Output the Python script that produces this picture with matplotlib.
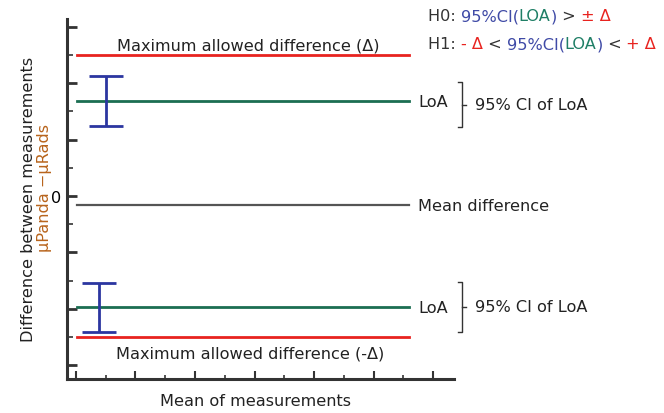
import matplotlib
matplotlib.use("Agg")
import matplotlib.pyplot as plt
from matplotlib.ticker import MultipleLocator, FixedLocator

# values (arbitrary units)
delta = 5.0
loa_upper = 3.37
loa_lower = -3.94
mean_diff = -0.32
ci_upper = [2.48, 4.27]
ci_lower = [-4.82, -3.07]
ci_x = [1.0, 0.77]
line_x = [0.05, 11.2]

RED = "#e8231f"
GREEN = "#1b6e52"
NAVY = "#2b36a0"
GRAY = "#555555"
DARK = "#333333"
BROWN = "#b8641c"
TEAL = "#1f7f66"
BLUE = "#3f4aa6"

plt.rcParams['font.family'] = ['DejaVu Sans']
fs = 11.6

fig = plt.figure(figsize=(6.64, 4.14), dpi=100)
ax = fig.add_axes([67/664, 34/414, (454-67)/664, (380-20)/414])
ax.set_xlim(-0.3, 12.7)
ax.set_ylim(-6.49, 6.28)

# limit lines
ax.plot(line_x, [delta, delta], color=RED, lw=2)
ax.plot(line_x, [-delta, -delta], color=RED, lw=2)
ax.plot(line_x, [loa_upper, loa_upper], color=GREEN, lw=2)
ax.plot(line_x, [loa_lower, loa_lower], color=GREEN, lw=2)
ax.plot(line_x, [mean_diff, mean_diff], color=GRAY, lw=1.6)

# confidence intervals of LoA
for x, (lo, hi) in zip(ci_x, [ci_upper, ci_lower]):
    ax.vlines(x, lo, hi, color=NAVY, lw=2)
    ax.hlines([lo, hi], x - 0.57, x + 0.57, color=NAVY, lw=2)

# text on lines
ax.text(5.78, 5.35, "Maximum allowed difference (Δ)", ha="center", va="center",
        fontsize=fs, color="#222222")
ax.text(5.85, -5.57, "Maximum allowed difference (-Δ)", ha="center", va="center",
        fontsize=fs, color="#222222")
for yv in [loa_upper, loa_lower]:
    ax.text(11.5, yv, "LoA", ha="left", va="center", fontsize=fs, color="#222222",
            clip_on=False)
ax.text(11.5, mean_diff, "Mean difference", ha="left", va="center", fontsize=fs,
        color="#222222", clip_on=False)

# brackets for 95% CI
for lo, hi in [(ci_upper[0] - 0.03, ci_upper[1] - 0.23), (ci_lower[0], ci_lower[1] + 0.02)]:
    xb = 12.97
    ax.plot([xb - 0.12, xb, xb, xb - 0.12], [hi, hi, lo, lo], color=DARK, lw=1,
            clip_on=False)
    mid = (lo + hi) / 2
    ax.plot([xb, xb + 0.12], [mid, mid], color=DARK, lw=1, clip_on=False)
    ax.text(13.42, mid, "95% CI of LoA", ha="left", va="center", fontsize=fs,
            color="#222222", clip_on=False)

# axes styling
for s in ["top", "right"]:
    ax.spines[s].set_visible(False)
for s in ["left", "bottom"]:
    ax.spines[s].set_linewidth(2.2)
    ax.spines[s].set_color(DARK)

ax.yaxis.set_minor_locator(MultipleLocator(1))
ax.xaxis.set_major_locator(FixedLocator([0, 2, 4, 6, 8, 10, 12]))
ax.xaxis.set_minor_locator(FixedLocator([1, 3, 5, 7, 9, 11]))
ax.set_yticks([-6, -4, -2, 0, 2, 4, 6])
ax.set_yticklabels(["", "", "", "0", "", "", ""])
ax.set_xticklabels([])
ax.tick_params(axis="y", which="major", direction="in", length=7, width=2,
               color=DARK, labelsize=fs, pad=4)
ax.tick_params(axis="y", which="minor", direction="in", length=4, width=1.2, color=DARK)
ax.tick_params(axis="x", which="major", direction="in", length=6, width=1.5, color=DARK)
ax.tick_params(axis="x", which="minor", direction="in", length=3, width=1.2, color=DARK)

# axis labels
fig.text(255/664, 1 - 402/414, "Mean of measurements", ha="center", va="center",
         fontsize=fs, color="#222222")
fig.text(29/664, 1 - 199/414, "Difference between measurements", rotation=90,
         ha="center", va="center", fontsize=fs, color="#222222")
fig.text(44/664, 1 - 188/414, "μPanda −μRads", rotation=90,
         ha="center", va="center", fontsize=fs, color=BROWN)

# hypothesis lines with mixed colours
h0 = [("H0: ", DARK), ("95%CI(", BLUE), ("LOA", TEAL), (")", BLUE), (" > ", DARK),
      ("± Δ", RED)]
h1 = [("H1: ", DARK), ("- Δ", RED), (" < ", DARK), ("95%CI(", BLUE), ("LOA", TEAL),
      (")", BLUE), (" < ", DARK), ("+ Δ", RED)]

renderer = fig.canvas.get_renderer()


def colour_line(x, y, parts):
    for s, c in parts:
        t = fig.text(x, y, s, color=c, fontsize=fs, va="baseline", ha="left")
        bb = t.get_window_extent(renderer=renderer)
        x += bb.width / fig.bbox.width


colour_line(428/664, 1 - 21/414, h0)
colour_line(428/664, 1 - 49/414, h1)

fig.savefig("out.png", dpi=100)
